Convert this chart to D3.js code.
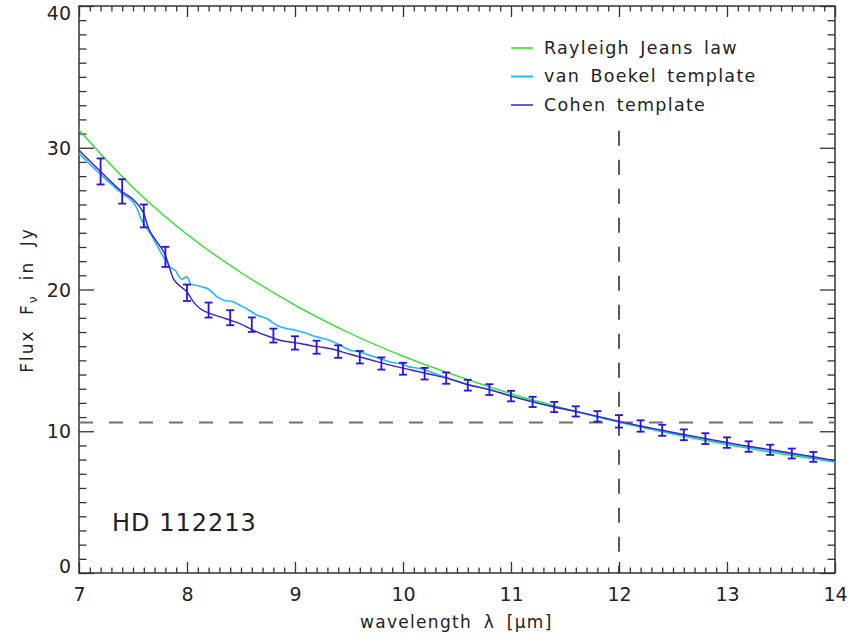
<!DOCTYPE html>
<html>
<head>
<meta charset="utf-8">
<script src="https://cdn.jsdelivr.net/npm/d3@7"></script>
<style>
  body { margin: 0; background: #fff; }
  svg { display: block; }
  text { font-family: "DejaVu Sans", sans-serif; fill: #222; }
</style>
</head>
<body>
<svg id="chart" width="851" height="640"></svg>
<script>
// Rayleigh-Jeans curve
const rjWave = [7, 7.5, 8, 8.5, 9, 9.5, 10, 10.5, 11, 11.5, 12, 12.5, 13, 13.5, 14];
const rjFlux = [31.25, 27.2, 23.9, 21.2, 18.9, 16.95, 15.3, 13.9, 12.65, 11.6, 10.65, 9.8, 9.05, 8.4, 7.82];

// van Boekel template
const vbWave = [7.0, 7.19, 7.4, 7.5, 7.53, 7.58, 7.62, 7.67, 7.73, 7.8, 7.84, 7.89, 7.95, 8.0, 8.04,
  8.09, 8.14, 8.19, 8.23, 8.28, 8.34, 8.43, 8.49, 8.55, 8.65, 8.74, 8.83, 8.92, 9.01, 9.11, 9.2,
  9.32, 9.42, 9.51, 9.6, 9.69, 9.79, 9.88, 9.97, 10.06, 10.16, 10.25, 10.34, 10.43, 10.6, 10.8,
  11.0, 11.2, 11.4, 11.6, 11.8, 12.0, 12.2, 12.4, 12.6, 12.8, 13.0, 13.2, 13.4, 13.6, 13.8, 14.0];
const vbFlux = [29.6, 28.19, 26.77, 26.18, 25.83, 24.89, 24.42, 23.83, 23.0, 22.07, 21.6, 21.36, 20.74, 20.89, 20.35,
  20.3, 20.18, 20.07, 19.83, 19.48, 19.25, 19.13, 18.89, 18.66, 18.19, 17.95, 17.48, 17.25, 17.13, 16.89, 16.66,
  16.42, 16.07, 15.72, 15.6, 15.36, 15.13, 14.89, 14.78, 14.54, 14.42, 14.19, 13.95, 13.72, 13.3, 12.95,
  12.5, 12.1, 11.72, 11.38, 11.02, 10.66, 10.33, 10.02, 9.71, 9.43, 9.15, 8.88, 8.63, 8.38, 8.13, 7.85];

// Cohen template
const cohenWave = [7.0, 7.19, 7.4, 7.5, 7.55, 7.6, 7.645, 7.71, 7.8, 7.873, 7.935, 8.0, 8.06, 8.12, 8.21,
  8.31, 8.4, 8.49, 8.58, 8.68, 8.77, 8.86, 8.95, 9.05, 9.14, 9.23, 9.32, 9.51, 9.69, 9.88, 10.06,
  10.25, 10.43, 10.6, 10.8, 11.0, 11.2, 11.4, 11.6, 11.8, 12.0, 12.2, 12.4, 12.6, 12.8, 13.0,
  13.2, 13.4, 13.6, 13.8, 14.0];
const cohenFlux = [29.83, 28.4, 26.9, 26.37, 25.95, 25.36, 24.3, 23.48, 22.42, 20.77, 20.25, 19.83, 19.13, 18.66, 18.31,
  18.07, 17.83, 17.6, 17.25, 16.9, 16.66, 16.42, 16.3, 16.19, 16.05, 15.95, 15.84, 15.43, 15.06, 14.66, 14.35,
  14.02, 13.7, 13.28, 12.94, 12.48, 12.07, 11.71, 11.4, 11.05, 10.7, 10.37, 10.07, 9.77, 9.49, 9.21,
  8.94, 8.7, 8.45, 8.2, 7.93];

// photometry points with error bars
const errWave = [7.2, 7.4, 7.6, 7.8, 8.0, 8.2, 8.4, 8.6, 8.8, 9.0, 9.2, 9.4, 9.6, 9.8, 10.0, 10.2, 10.4,
  10.6, 10.8, 11.0, 11.2, 11.4, 11.6, 11.8, 12.0, 12.2, 12.4, 12.6, 12.8, 13.0, 13.2, 13.4, 13.6, 13.8];
const errFlux = [28.33, 26.92, 25.19, 22.3, 19.77, 18.55, 18.01, 17.52, 16.75, 16.23, 15.93, 15.62, 15.22, 14.78, 14.41, 14.06, 13.75,
  13.25, 12.94, 12.48, 12.07, 11.71, 11.4, 11.05, 10.7, 10.37, 10.07, 9.75, 9.48, 9.2, 8.92, 8.69, 8.43, 8.19];
const errSize = [0.92, 0.86, 0.81, 0.71, 0.58, 0.53, 0.53, 0.51, 0.49, 0.47, 0.46, 0.44, 0.44, 0.43, 0.42, 0.41, 0.4,
  0.38, 0.38, 0.37, 0.36, 0.36, 0.36, 0.37, 0.44, 0.4, 0.39, 0.38, 0.38, 0.37, 0.37, 0.36, 0.35, 0.35];

const xTicks = [7, 8, 9, 10, 11, 12, 13, 14];
const yTicks = [0, 10, 20, 30, 40];
const refFlux = 10.62;
const refWave = 12;

const legendNames = ["Rayleigh Jeans law", "van Boekel template", "Cohen template"];
const legendColors = ["#22e022", "#22b8ff", "#3b1fd6"];

const svg = d3.select("#chart");
const plotL = 79, plotR = 835, plotT = 6, plotB = 573;

const x = d3.scaleLinear().domain([7, 14]).range([plotL, plotR]);
const y = d3.scaleLinear().domain([0, 40]).range([plotB, plotT]);

const xMinor = d3.range(70, 141).filter(d => d % 10 !== 0).map(d => d / 10);
const yMinor = d3.range(0, 41).filter(d => d % 10 !== 0);

function styleAxis(g) {
  g.select(".domain").remove();
  g.selectAll(".tick line").attr("stroke", "#333").attr("stroke-width", 1.3);
  g.selectAll("text").attr("fill", "#222").style("font-size", "19px");
}

// major + minor ticks on all four sides
svg.append("g").attr("transform", `translate(0,${plotB})`)
  .call(d3.axisBottom(x).tickValues(xTicks).tickSize(-11).tickPadding(15).tickFormat(d3.format("d")))
  .call(styleAxis);
svg.append("g").attr("transform", `translate(0,${plotB})`)
  .call(d3.axisBottom(x).tickValues(xMinor).tickSize(-5.5).tickFormat(""))
  .call(styleAxis);
svg.append("g").attr("transform", `translate(0,${plotT})`)
  .call(d3.axisTop(x).tickValues(xTicks).tickSize(-11).tickFormat(""))
  .call(styleAxis);
svg.append("g").attr("transform", `translate(0,${plotT})`)
  .call(d3.axisTop(x).tickValues(xMinor).tickSize(-5.5).tickFormat(""))
  .call(styleAxis);
const yAxisG = svg.append("g").attr("transform", `translate(${plotL},0)`)
  .call(d3.axisLeft(y).tickValues(yTicks).tickSize(-15).tickPadding(8).tickFormat(d3.format("d")))
  .call(styleAxis);
// the end labels sit inside the plot height, like in the original
yAxisG.selectAll(".tick text")
  .attr("dy", d => d === 40 ? "0.72em" : d === 0 ? "-0.05em" : "0.35em");
svg.append("g").attr("transform", `translate(${plotL},0)`)
  .call(d3.axisLeft(y).tickValues(yMinor).tickSize(-7.5).tickFormat(""))
  .call(styleAxis);
svg.append("g").attr("transform", `translate(${plotR},0)`)
  .call(d3.axisRight(y).tickValues(yTicks).tickSize(-15).tickFormat(""))
  .call(styleAxis);
svg.append("g").attr("transform", `translate(${plotR},0)`)
  .call(d3.axisRight(y).tickValues(yMinor).tickSize(-7.5).tickFormat(""))
  .call(styleAxis);

svg.append("rect")
  .attr("x", plotL).attr("y", plotT)
  .attr("width", plotR - plotL).attr("height", plotB - plotT)
  .attr("fill", "none").attr("stroke", "#333").attr("stroke-width", 1.5);

// reference dashed lines
svg.append("line")
  .attr("x1", x(7)).attr("x2", x(14))
  .attr("y1", y(refFlux)).attr("y2", y(refFlux))
  .attr("stroke", "#707070").attr("stroke-width", 2)
  .attr("stroke-dasharray", "14,16");
svg.append("line")
  .attr("x1", x(refWave)).attr("x2", x(refWave))
  .attr("y1", y(31.2)).attr("y2", y(0))
  .attr("stroke", "#222").attr("stroke-width", 1.5)
  .attr("stroke-dasharray", "15,14");

const line = d3.line().x(d => x(d[0])).y(d => y(d[1])).curve(d3.curveMonotoneX);

svg.append("path")
  .attr("d", line(d3.zip(rjWave, rjFlux)))
  .attr("fill", "none").attr("stroke", legendColors[0]).attr("stroke-width", 1.3);
svg.append("path")
  .attr("d", line(d3.zip(vbWave, vbFlux)))
  .attr("fill", "none").attr("stroke", legendColors[1]).attr("stroke-width", 1.6);
svg.append("path")
  .attr("d", line(d3.zip(cohenWave, cohenFlux)))
  .attr("fill", "none").attr("stroke", legendColors[2]).attr("stroke-width", 1.4);

// error bars
const bars = svg.append("g").attr("stroke", "#2a10f0").attr("stroke-width", 1.8);
errWave.forEach((w, i) => {
  const cx = x(w);
  const y0 = y(errFlux[i] - errSize[i]);
  const y1 = y(errFlux[i] + errSize[i]);
  bars.append("line").attr("x1", cx).attr("x2", cx).attr("y1", y0).attr("y2", y1);
  bars.append("line").attr("x1", cx - 4).attr("x2", cx + 4).attr("y1", y0).attr("y2", y0);
  bars.append("line").attr("x1", cx - 4).attr("x2", cx + 4).attr("y1", y1).attr("y2", y1);
});

// legend
const legend = svg.append("g");
legendNames.forEach((name, i) => {
  const ly = 48 + i * 28.5;
  legend.append("line")
    .attr("x1", 511).attr("x2", 533).attr("y1", ly).attr("y2", ly)
    .attr("stroke", legendColors[i]).attr("stroke-width", i === 1 ? 2 : 1.5);
  legend.append("text")
    .attr("x", 544).attr("y", ly + 5.5)
    .style("font-size", "17.5px")
    .style("letter-spacing", "1.3px")
    .style("word-spacing", "3.5px")
    .text(name);
});

// labels
svg.append("text")
  .attr("x", 112).attr("y", 531)
  .style("font-size", "24px").style("letter-spacing", "1px")
  .text("HD 112213");

svg.append("text")
  .attr("x", 360).attr("y", 628)
  .style("font-size", "17px").style("letter-spacing", "1.3px")
  .style("word-spacing", "5px")
  .text("wavelength λ [μm]");

const yl = svg.append("text")
  .attr("transform", "translate(33,300) rotate(-90)")
  .attr("text-anchor", "middle")
  .style("font-size", "17px").style("letter-spacing", "2px")
  .style("word-spacing", "7px");
yl.append("tspan").text("Flux F");
yl.append("tspan").attr("dy", 4).style("font-size", "12px").text("ν");
yl.append("tspan").attr("dy", -4).text(" in Jy");
</script>
</body>
</html>
